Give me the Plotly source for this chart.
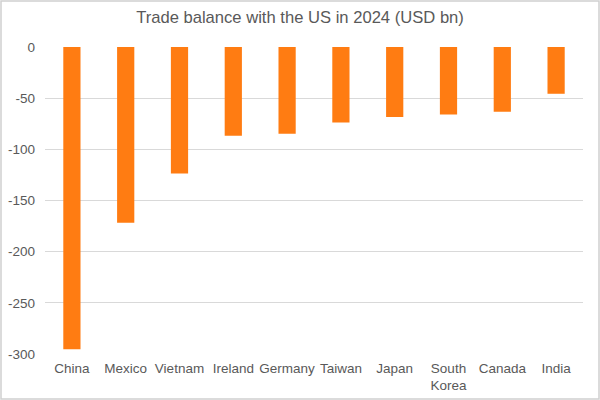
import plotly.graph_objects as go

countries = ["China", "Mexico", "Vietnam", "Ireland", "Germany", "Taiwan",
             "Japan", "South<br>Korea", "Canada", "India"]
balance = [-295.4, -171.8, -123.5, -86.7, -84.8, -73.9, -68.5, -66.0, -63.3, -45.7]
y_ticks = [0, -50, -100, -150, -200, -250, -300]
y_tick_text = ["0", "-50", "-100", "-150", "-200", "-250", "-300"]

W, H = 600, 400
ml, mr, mt, mb = 45, 17, 47, 46

fig = go.Figure()
fig.add_trace(go.Bar(
    x=countries, y=balance,
    marker=dict(color="#ff7c12", line=dict(width=0)),
    hoverinfo="x+y",
))

fig.update_layout(
    width=W, height=H,
    margin=dict(l=ml, r=mr, t=mt, b=mb),
    paper_bgcolor="white", plot_bgcolor="white",
    font=dict(family="Liberation Sans, Arial, sans-serif", size=13.5, color="#595959"),
    title=dict(text="Trade balance with the US in 2024 (USD bn)",
               x=0.5, xanchor="center", y=0.958, yanchor="middle",
               font=dict(size=16.6, color="#595959")),
    bargap=0.68,
    showlegend=False,
    xaxis=dict(showgrid=False, showline=False, ticks="", tickfont=dict(size=13.5),
               ticklabelstandoff=4, automargin=False),
    yaxis=dict(range=[-300, 0], tickvals=y_ticks, ticktext=y_tick_text,
               showgrid=True, gridcolor="#d9d9d9", gridwidth=1,
               zeroline=False, showline=False, ticks="",
               tickfont=dict(size=13.5), ticklabelstandoff=9, automargin=False),
)

# light grey frame round the whole chart
pw = W - ml - mr
ph = H - mt - mb
fig.add_shape(type="rect", xref="paper", yref="paper",
              x0=-(ml - 1) / pw, x1=1 + (mr - 1) / pw,
              y0=-(mb - 1) / ph, y1=1 + (mt - 1) / ph,
              line=dict(color="#d0d0d0", width=1.5), layer="above")

# page has no body margin so the 600x400 figure fills the window
fig.write_html("out.html", config={"displayModeBar": False},
               post_script="document.body.style.margin='0';")
